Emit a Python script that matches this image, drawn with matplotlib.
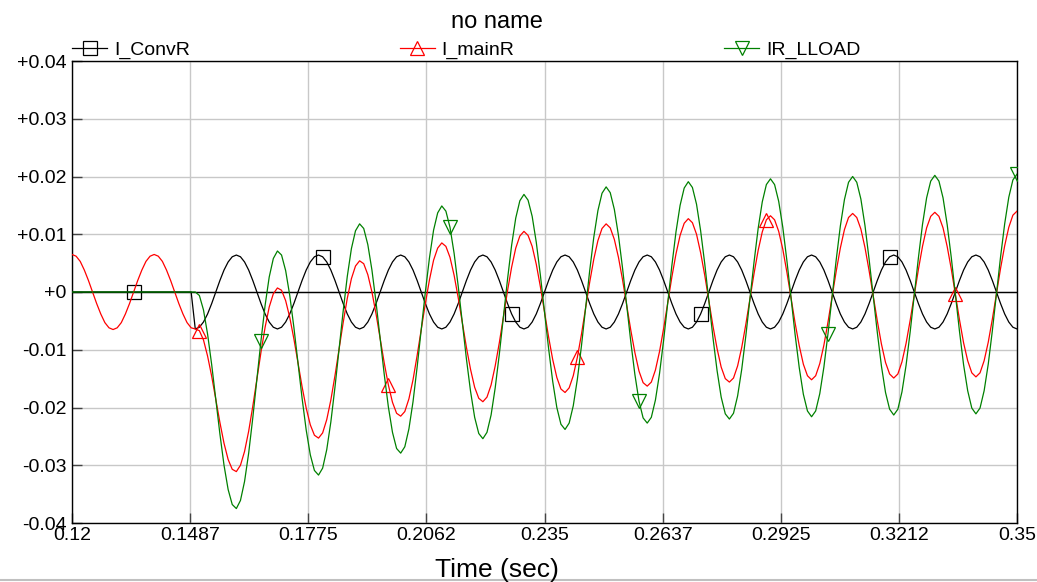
import numpy as np
import matplotlib
matplotlib.use("Agg")
import matplotlib.pyplot as plt
from matplotlib.lines import Line2D
from matplotlib.ticker import FuncFormatter

plt.rcParams['font.family'] = ['Liberation Sans', 'DejaVu Sans']

# sample times (1 ms steps, 0.12 .. 0.35 s)
t = np.linspace(0.12, 0.35, 231)

# currents, in units of 1e-4 (A)
# before the switch at t = 0.15 s
conv_pre = [0] * 30
main_pre = [65, 62, 53, 38, 20, 0, -20, -38, -53, -62,
            -65, -62, -53, -38, -20, 0, 20, 38, 53, 62,
            65, 62, 53, 38, 20, 0, -20, -38, -53, -62]
load_pre = [0] * 30

# after the switch (0.150 .. 0.350 s)
conv_post = [-64, -61, -52, -38, -20, 0, 20, 38, 52, 61, 64, 61, 52, 38, 20, 0, -20, -38, -52, -61,
             -64, -61, -52, -38, -20, 0, 20, 38, 52, 61, 64, 61, 52, 38, 20, 0, -20, -38, -52, -61,
             -64, -61, -52, -38, -20, 0, 20, 38, 52, 61, 64, 61, 52, 38, 20, 0, -20, -38, -52, -61,
             -64, -61, -52, -38, -20, 0, 20, 38, 52, 61, 64, 61, 52, 38, 20, 0, -20, -38, -52, -61,
             -64, -61, -52, -38, -20, 0, 20, 38, 52, 61, 64, 61, 52, 38, 20, 0, -20, -38, -52, -61,
             -64, -61, -52, -38, -20, 0, 20, 38, 52, 61, 64, 61, 52, 38, 20, 0, -20, -38, -52, -61,
             -64, -61, -52, -38, -20, 0, 20, 38, 52, 61, 64, 61, 52, 38, 20, 0, -20, -38, -52, -61,
             -64, -61, -52, -38, -20, 0, 20, 38, 52, 61, 64, 61, 52, 38, 20, 0, -20, -38, -52, -61,
             -64, -61, -52, -38, -20, 0, 20, 38, 52, 61, 64, 61, 52, 38, 20, 0, -20, -38, -52, -61,
             -64, -61, -52, -38, -20, 0, 20, 38, 52, 61, 64, 61, 52, 38, 20, 0, -20, -38, -52, -61,
             -64]

main_post = [-64, -67, -83, -111, -146, -186, -226, -262, -290, -307,
             -311, -300, -276, -241, -198, -151, -104, -61, -26, -3,
             7, 3, -15, -44, -81, -122, -164, -201, -230, -248,
             -253, -244, -221, -187, -145, -99, -53, -11, 23, 45,
             54, 49, 30, 0, -38, -80, -123, -161, -191, -210,
             -215, -207, -185, -152, -110, -65, -20, 21, 55, 76,
             85, 79, 60, 29, -10, -53, -96, -134, -165, -184,
             -190, -182, -161, -128, -88, -43, 2, 43, 76, 97,
             105, 98, 79, 48, 9, -35, -78, -117, -148, -168,
             -174, -166, -145, -113, -73, -28, 17, 57, 89, 110,
             118, 111, 91, 60, 21, -23, -66, -105, -137, -157,
             -163, -156, -135, -103, -63, -18, 26, 66, 98, 119,
             127, 120, 100, 68, 29, -15, -59, -98, -130, -150,
             -156, -149, -128, -96, -56, -12, 32, 72, 104, 125,
             132, 125, 105, 74, 34, -10, -54, -93, -125, -145,
             -152, -145, -124, -92, -52, -8, 36, 76, 108, 129,
             136, 129, 109, 77, 37, -6, -50, -90, -122, -142,
             -149, -142, -121, -89, -49, -5, 39, 79, 111, 131,
             138, 131, 111, 79, 40, -4, -48, -88, -119, -140,
             -147, -140, -119, -87, -47, -3, 41, 80, 112, 133,
             140]

load_post = [0, -6, -31, -73, -126, -186, -246, -300, -342, -368,
             -375, -361, -328, -279, -218, -151, -84, -23, 26, 58,
             71, 64, 37, -6, -61, -122, -184, -239, -282, -309,
             -317, -305, -273, -225, -165, -99, -33, 27, 75, 106,
             118, 110, 82, 38, -18, -80, -143, -199, -243, -271,
             -279, -268, -237, -190, -130, -65, 0, 59, 107, 137,
             149, 140, 112, 67, 10, -53, -116, -172, -217, -245,
             -254, -243, -213, -166, -108, -43, 22, 81, 128, 158,
             169, 159, 131, 86, 29, -35, -98, -155, -200, -229,
             -238, -227, -197, -151, -93, -28, 37, 95, 141, 171,
             182, 172, 143, 98, 41, -23, -86, -143, -189, -218,
             -227, -217, -187, -141, -83, -18, 46, 104, 150, 180,
             191, 181, 152, 106, 49, -15, -79, -136, -182, -211,
             -220, -210, -180, -134, -76, -12, 52, 110, 156, 186,
             196, 186, 157, 112, 54, -10, -74, -131, -177, -206,
             -216, -206, -176, -130, -72, -8, 56, 114, 160, 190,
             200, 190, 161, 115, 57, -6, -70, -128, -174, -203,
             -213, -203, -173, -127, -69, -5, 59, 117, 163, 192,
             202, 192, 163, 117, 60, -4, -68, -126, -171, -201,
             -211, -201, -171, -125, -67, -3, 61, 118, 164, 194,
             204]

i_conv = np.array(conv_pre + conv_post) * 1e-4
i_main = np.array(main_pre + main_post) * 1e-4
i_load = np.array(load_pre + load_post) * 1e-4

names = ['I_ConvR', 'I_mainR', 'IR_LLOAD']
colors = ['#000000', '#ff0000', '#008000']
markers = ['s', '^', 'v']

x_ticks = [0.12, 0.14875, 0.1775, 0.20625, 0.235, 0.26375, 0.2925, 0.32125, 0.35]
x_labels = ['0.12', '0.1487', '0.1775', '0.2062', '0.235', '0.2637', '0.2925', '0.3212', '0.35']
y_ticks = [-0.04, -0.03, -0.02, -0.01, 0, 0.01, 0.02, 0.03, 0.04]

W, H = 1037, 582
fig = plt.figure(figsize=(W / 100, H / 100), dpi=100)
ax = fig.add_axes([72 / W, 59 / H, 945 / W, 462 / H])

ax.axhline(0, color='black', lw=1.0, zorder=1.5)

# markers sit every 1/5 of the span, staggered by a third per curve
span = t[-1] - t[0]
handles = []
for i, (y, name, c, m) in enumerate(zip([i_conv, i_main, i_load], names, colors, markers)):
    mtimes = t[0] + span / 5 * (np.arange(5) + (i + 1) / 3)
    idx = [int(np.abs(t - mt).argmin()) for mt in mtimes]
    ms = 9.5 if m == 's' else 10
    ax.plot(t, y, color=c, lw=0.9, marker=m, markevery=idx, ms=ms,
            mfc='none', mec=c, mew=0.9, zorder=2 + i)
    handles.append(Line2D([], [], color=c, lw=0.9, marker=m, ms=ms,
                          mfc='none', mec=c, mew=0.9, label=name))

ax.set_xlim(0.12, 0.35)
ax.set_ylim(-0.04, 0.04)
ax.set_xticks(x_ticks)
ax.set_xticklabels(x_labels)
ax.set_yticks(y_ticks)
ax.yaxis.set_major_formatter(FuncFormatter(lambda v, p: '+0' if abs(v) < 1e-9 else f'{v:+.2f}'))

ax.grid(True, color='#c8c8c8', lw=1.0)
ax.set_axisbelow(True)
ax.tick_params(direction='in', length=7.5, width=1, color='#444444',
               labelsize=14, pad=4)
ax.tick_params(axis='x', pad=3)
for s in ax.spines.values():
    s.set_color('black')
    s.set_linewidth(1.0)

ax.legend(handles=handles, ncol=3, loc='center left',
          bbox_to_anchor=(72 / W, 1 - 50.5 / H), bbox_transform=fig.transFigure,
          frameon=False, borderpad=0, borderaxespad=0, fontsize=14,
          handlelength=1.8, handletextpad=0.35, columnspacing=10.8)

fig.text(497 / W, 1 - 27.5 / H, 'no name', ha='center', va='baseline', fontsize=17)
fig.text(497 / W, 1 - 577 / H, 'Time (sec)', ha='center', va='baseline', fontsize=19)

fig.add_artist(Line2D([0, 1], [1 - 579.5 / H, 1 - 579.5 / H], transform=fig.transFigure,
                      color='#c0c0c0', lw=1.5))

fig.savefig('out.png', dpi=100)
